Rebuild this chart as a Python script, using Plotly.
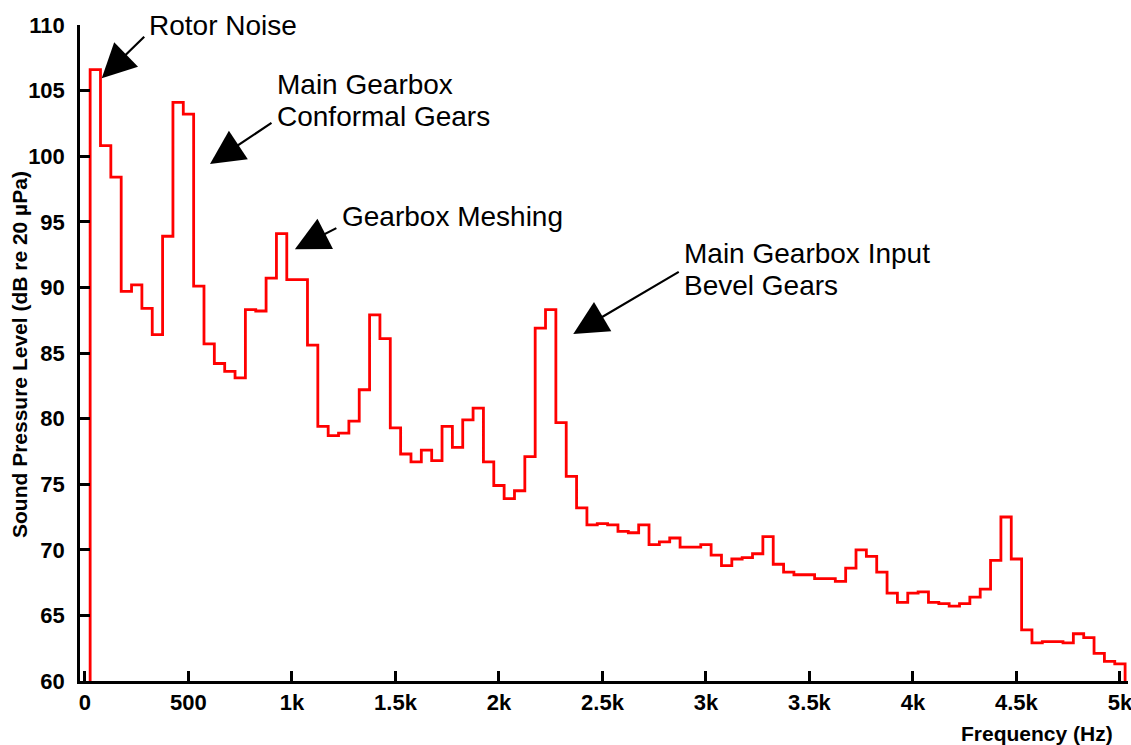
import plotly.graph_objects as go

# 50 Hz band centres (Hz) and measured sound pressure level (dB re 20 µPa)
freq_centres = [50 * (i + 1) for i in range(100)]
spl_db = [
    106.6, 100.8, 98.4, 89.7, 90.2, 88.4, 86.4, 93.9, 104.1, 103.2,
    90.1, 85.7, 84.2, 83.6, 83.1, 88.3, 88.2, 90.7, 94.1, 90.6,
    90.6, 85.6, 79.4, 78.7, 78.9, 79.8, 82.2, 87.9, 86.1, 79.3,
    77.3, 76.7, 77.6, 76.8, 79.4, 77.8, 79.9, 80.8, 76.7, 74.9,
    73.9, 74.5, 77.1, 86.9, 88.3, 79.7, 75.6, 73.2, 71.9, 72.0,
    71.9, 71.4, 71.3, 71.9, 70.4, 70.6, 70.9, 70.2, 70.2, 70.4,
    69.6, 68.8, 69.3, 69.4, 69.7, 71.0, 68.9, 68.3, 68.1, 68.1,
    67.8, 67.8, 67.6, 68.6, 70.0, 69.5, 68.3, 66.7, 66.0, 66.7,
    66.8, 66.0, 65.9, 65.7, 65.9, 66.4, 67.0, 69.2, 72.5, 69.3,
    63.9, 62.9, 63.0, 63.0, 62.9, 63.6, 63.3, 62.1, 61.5, 61.3,
]

x_tickvals = [0, 500, 1000, 1500, 2000, 2500, 3000, 3500, 4000, 4500, 5000]
x_ticktext = ["0", "500", "1k", "1.5k", "2k", "2.5k", "3k", "3.5k", "4k", "4.5k", "5k"]
y_tickvals = [60, 65, 70, 75, 80, 85, 90, 95, 100, 105, 110]

# arrows: tip x (Hz), tip y (dB), tail dx px, tail dy px
arrows = [
    (81, 105.94, 44, -43),
    (604, 99.41, 63, -42),
    (1014, 92.9, 43, -22),
    (2359, 86.45, 107, -63),
]
# labels: text, x (Hz), y (paper fraction of plot height)
labels = [
    ("Rotor Noise", 314, 1.0),
    ("Main Gearbox", 932, 0.910),
    ("Conformal Gears", 932, 0.861),
    ("Gearbox Meshing", 1246, 0.708),
    ("Main Gearbox Input", 2899, 0.651),
    ("Bevel Gears", 2899, 0.603),
]

FLOOR = 60
half = (freq_centres[1] - freq_centres[0]) / 2
edges = [f - half for f in freq_centres]
xs = [edges[0]] + edges + [freq_centres[-1] + half]
ys = [FLOOR] + spl_db + [FLOOR]

FONT = "Liberation Sans, Arial, Helvetica, sans-serif"

fig = go.Figure()
fig.add_trace(go.Scatter(
    x=xs, y=ys, mode="lines", line=dict(color="#ff0000", width=2.8, shape="hv"),
    showlegend=False, hoverinfo="skip",
))

annots = []
for (x, y, dx, dy) in arrows:
    annots.append(dict(
        x=x, y=y, xref="x", yref="y", text="", showarrow=True,
        ax=dx, ay=dy, arrowhead=2, arrowsize=3.1, arrowwidth=2.2,
        arrowcolor="black", standoff=0,
    ))
for (t, x, y) in labels:
    annots.append(dict(
        x=x, y=y, xref="x", yref="paper", text=t, showarrow=False,
        xanchor="left", yanchor="middle", xshift=-3,
        font=dict(family=FONT, size=28, color="black"),
    ))
annots.append(dict(
    x=1, y=0, xref="paper", yref="paper", text="<b>Frequency (Hz)</b>",
    showarrow=False, xanchor="right", yanchor="top", yshift=-39, xshift=-13,
    font=dict(family=FONT, size=21, color="black"),
))
annots.append(dict(
    x=0, y=0.5, xref="paper", yref="paper",
    text="<b>Sound Pressure Level (dB re 20 µPa)</b>", textangle=-90,
    showarrow=False, xanchor="center", yanchor="middle", xshift=-61, yshift=-2,
    font=dict(family=FONT, size=21, color="black"),
))

fig.update_layout(
    width=1131, height=745,
    margin=dict(l=80, r=3, t=25, b=64),
    paper_bgcolor="white", plot_bgcolor="white",
    font=dict(family=FONT, color="black"),
    annotations=annots,
    xaxis=dict(
        range=[-24, 5039], tickvals=x_tickvals, ticktext=x_ticktext,
        showline=True, linecolor="black", linewidth=2.5,
        ticks="inside", ticklen=10, tickwidth=2.5, tickcolor="black",
        showgrid=False, zeroline=False, automargin=False,
        tickfont=dict(family=FONT, size=22, color="black", weight="bold"),
        ticklabelstandoff=0, ticklabeloverflow="allow",
    ),
    yaxis=dict(
        range=[60, 110], tickvals=y_tickvals,
        showline=True, linecolor="black", linewidth=2.5,
        ticks="inside", ticklen=10, tickwidth=2.5, tickcolor="black",
        showgrid=False, zeroline=False, automargin=False,
        tickfont=dict(family=FONT, size=22, color="black", weight="bold"),
        ticklabelstandoff=8,
    ),
)

# remove the default page margin so the 1131x745 figure fills the window exactly
fig.write_html(
    "out.html",
    config={"displayModeBar": False},
    post_script="document.body.style.margin='0';document.body.style.overflow='hidden';",
)
